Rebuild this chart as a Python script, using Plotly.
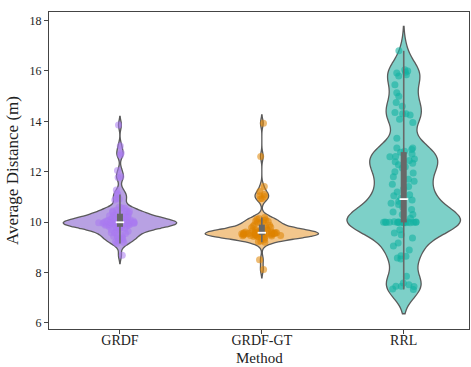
import numpy as np
import plotly.graph_objects as go

methods = ["GRDF", "GRDF-GT", "RRL"]

grdf = [
    13.86, 13.02, 12.74, 12.67, 12.05, 11.80, 11.77, 11.28, 11.15, 11.10,
    10.95, 10.92, 10.88, 10.60, 10.57, 10.55,
    10.48, 10.45, 10.42, 10.40, 10.36, 10.33, 10.30, 10.28, 10.25, 10.24,
    10.22, 10.20, 10.35, 10.44,
    10.18, 10.16, 10.15, 10.13, 10.12, 10.10, 10.08, 10.07, 10.05, 10.04,
    10.03, 10.02, 10.01, 10.00, 10.00, 9.99, 9.98, 9.98, 9.97, 9.96,
    9.96, 9.95, 9.95, 9.94, 9.93, 9.92, 9.91, 9.90, 9.89, 9.88,
    9.87, 9.86, 9.85, 9.84, 9.83, 9.82, 9.80, 9.99, 10.02, 9.97,
    9.78, 9.76, 9.74, 9.72, 9.70, 9.67, 9.64, 9.60, 9.58, 9.55,
    9.50, 9.47, 9.44, 9.41,
    9.38, 9.36, 9.30, 9.27, 9.22, 9.19, 9.15, 8.69,
]

grdf_gt = [
    13.93, 12.61, 11.42, 11.22, 11.10, 11.05, 11.02, 10.94, 10.93,
    10.18, 10.15, 10.12, 10.10, 10.08, 10.05, 10.03, 10.00, 10.00, 9.98,
    9.90, 9.88, 9.85, 9.82, 9.80, 9.78, 9.75, 9.72, 9.70, 9.68,
    9.66, 9.64, 9.62, 9.61, 9.60, 9.59, 9.58, 9.57, 9.56, 9.56,
    9.55, 9.55, 9.55, 9.54, 9.54, 9.53, 9.53, 9.52, 9.52, 9.51,
    9.50, 9.50, 9.49, 9.48, 9.47, 9.46, 9.45, 9.44, 9.43, 9.42,
    9.57, 9.58, 9.53, 9.51, 9.49, 9.60, 9.62, 9.47, 9.45, 9.56,
    9.38, 9.35, 9.30, 9.25, 9.22, 9.20,
    8.51, 8.12,
]

rrl = [
    16.80,
    16.05, 15.95, 16.00, 15.85, 15.92, 15.80,
    15.45, 15.14, 15.00,
    14.75, 14.60,
    14.30, 14.30, 14.35, 14.25, 14.08, 13.95,
    13.33,
    12.77, 12.61, 12.94, 12.81, 12.94, 12.34, 12.51, 12.28, 12.45, 12.70,
    12.88, 12.60, 12.40,
    12.20, 12.15, 12.00, 11.95, 11.62, 11.80, 11.70, 11.50,
    11.33, 11.05, 10.83, 11.09, 11.42, 11.20, 10.95, 10.70, 10.60, 10.88,
    10.50, 10.30, 10.30, 10.16, 10.40, 10.75,
    10.02, 10.01, 10.00, 9.99, 9.99, 9.98, 10.00, 10.01, 9.99, 10.00,
    9.98, 10.02, 10.00, 9.99, 10.01, 10.00, 9.98,
    9.57, 9.50, 9.37, 9.17, 9.70,
    9.05, 8.65, 8.58, 8.54, 8.67, 8.90,
    7.85, 7.59, 7.46, 7.46, 7.35, 7.33, 7.45, 7.52,
]

samples = [grdf, grdf_gt, rrl]
fill_colors = ["#b8a1e3", "#f2c68c", "#7dd0c8"]
point_colors = ["rgba(170,122,240,0.55)", "rgba(222,132,0,0.55)", "rgba(20,178,162,0.6)"]

FONT = "Liberation Serif"
EDGE = "#5a5a5a"
BOX = "#686868"

fig = go.Figure()

# violin bodies (kernel density, Scott's rule scaled by 0.5, cut at 2 bandwidths)
for name, vals, fc in zip(methods, samples, fill_colors):
    arr = np.asarray(vals)
    bw = 0.5 * arr.std(ddof=1) * len(arr) ** (-0.2)
    fig.add_trace(go.Violin(
        x=[name] * len(arr), y=arr, name=name,
        width=0.8, scalemode="width", bandwidth=bw, spanmode="soft",
        fillcolor=fc, line=dict(color=EDGE, width=1.3),
        points=False, box=dict(visible=False), meanline=dict(visible=False),
        hoveron="violins", showlegend=False,
    ))

# inner box: whisker line, thick IQR bar, white median
for name, vals in zip(methods, samples):
    arr = np.asarray(vals)
    q1, med, q3 = np.percentile(arr, [25, 50, 75])
    iqr = q3 - q1
    lo = arr[arr >= q1 - 1.5 * iqr].min()
    hi = arr[arr <= q3 + 1.5 * iqr].max()
    fig.add_trace(go.Scatter(x=[name, name], y=[lo, hi], mode="lines",
                             line=dict(color=BOX, width=1.6),
                             showlegend=False, hoverinfo="skip"))
    fig.add_trace(go.Scatter(x=[name, name], y=[q1, q3], mode="lines",
                             line=dict(color=BOX, width=6),
                             showlegend=False, hoverinfo="skip"))
    fig.add_trace(go.Scatter(x=[name], y=[med], mode="markers",
                             marker=dict(symbol="line-ew-open", size=6, color="white",
                                         line=dict(color="white", width=1.8)),
                             showlegend=False, hoverinfo="skip"))

# jittered sample points on top
for name, vals, pc in zip(methods, samples, point_colors):
    arr = np.asarray(vals)
    bw = 0.5 * arr.std(ddof=1) * len(arr) ** (-0.2)
    fig.add_trace(go.Violin(
        x=[name] * len(arr), y=arr, name=name,
        width=0.8, scalemode="width", bandwidth=bw, spanmode="soft",
        fillcolor="rgba(0,0,0,0)", line=dict(color="rgba(0,0,0,0)", width=0),
        points="all", jitter=0.38, pointpos=0,
        marker=dict(color=pc, size=7, line=dict(width=0)),
        box=dict(visible=False), meanline=dict(visible=False),
        hoveron="points", showlegend=False,
    ))

fig.update_layout(
    width=471, height=367,
    margin=dict(l=49, r=2, t=12, b=38),
    paper_bgcolor="white", plot_bgcolor="white",
    violinmode="overlay",
    font=dict(family=FONT, size=13, color="#222"),
    annotations=[dict(
        text="Method", xref="paper", yref="paper", x=0.5, y=0,
        xanchor="center", yanchor="middle", yshift=-29, showarrow=False,
        font=dict(family=FONT, size=15, color="#222"),
    )],
)
fig.update_xaxes(
    range=[-0.5, 2.46], showline=True, linecolor="#444", linewidth=1.2, mirror=True,
    ticks="outside", ticklen=4, tickcolor="#444", showgrid=False, zeroline=False,
    ticklabelstandoff=-6,
    tickfont=dict(family=FONT, size=14, color="#222"),
)
fig.update_yaxes(
    range=[5.76, 18.34], showline=True, linecolor="#444", linewidth=1.2, mirror=True,
    ticks="outside", ticklen=4, tickcolor="#444", showgrid=False, zeroline=False,
    tickvals=[6, 8, 10, 12, 14, 16, 18],
    tickfont=dict(family=FONT, size=12, color="#222"),
    title=dict(text="Average Distance (m)", font=dict(family=FONT, size=17, color="#222"), standoff=6),
)

fig.write_html("out.html")
